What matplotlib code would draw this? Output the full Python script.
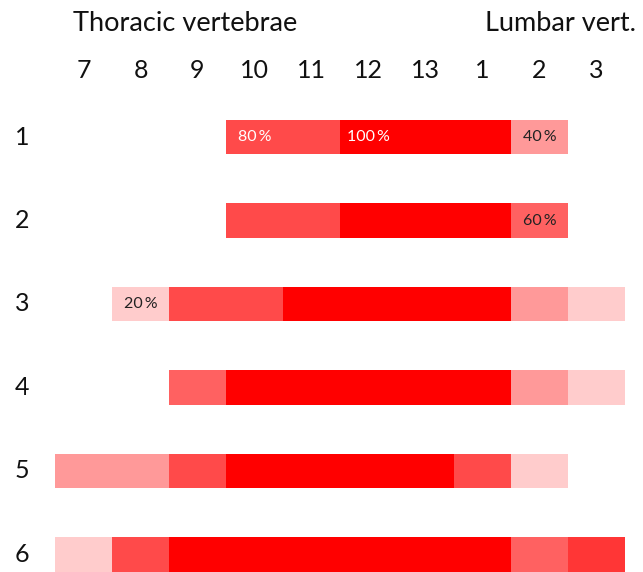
import matplotlib
matplotlib.use("Agg")
import matplotlib.pyplot as plt

# vertebrae columns (thoracic 7-13, lumbar 1-3)
cols = ["7", "8", "9", "10", "11", "12", "13", "1", "2", "3"]
rows = ["1", "2", "3", "4", "5", "6"]

# share of animals per cell (0 = empty)
row1 = [0, 0, 0, 0.8, 0.8, 1, 1, 1, 0.4, 0]
row2 = [0, 0, 0, 0.8, 0.8, 1, 1, 1, 0.6, 0]
row3 = [0, 0.2, 0.8, 0.8, 1, 1, 1, 1, 0.4, 0.2]
row4 = [0, 0, 0.6, 1, 1, 1, 1, 1, 0.4, 0.2]
row5 = [0.4, 0.4, 0.8, 1, 1, 1, 1, 0.8, 0.2, 0]
row6 = [0.2, 0.8, 1, 1, 1, 1, 1, 1, 0.6, 0.9]
data = [row1, row2, row3, row4, row5, row6]

# cells carrying a percentage label: (row, col, text)
labels = [(0, 3, "80\u2009%"), (0, 5, "100\u2009%"), (0, 8, "40\u2009%"),
          (1, 8, "60\u2009%"), (2, 1, "20\u2009%")]

# how strong the red looks for each level
shade = {0.2: 0.2, 0.4: 0.4, 0.6: 0.62, 0.8: 0.71, 0.9: 0.79, 1: 1.0}

plt.rcParams['font.family'] = ['Lato', 'DejaVu Sans']

fig = plt.figure(figsize=(6.43, 5.72), dpi=100)
ax = fig.add_axes([0, 0, 1, 1])

for r, vals in enumerate(data):
    # join neighbouring cells with the same value into one bar (no seams)
    c = 0
    while c < len(vals):
        v = vals[c]
        n = 1
        while c + n < len(vals) and vals[c + n] == v:
            n += 1
        if v != 0:
            a = shade[v]
            ax.barh(r, n, left=c - 0.5, height=0.41, color=(1, 1 - a, 1 - a),
                    linewidth=0)
        c += n

for r, c, t in labels:
    v = data[r][c]
    tc = 'white' if v >= 0.8 else '#222222'
    ax.text(c, r, t, ha='center', va='center', fontsize=11.5, color=tc)

# column numbers and row numbers
for c, name in enumerate(cols):
    ax.text(c, -0.80, name, ha='center', va='center', fontsize=18, color='#111111')
for r, name in enumerate(rows):
    ax.text(-1.08, r, name, ha='center', va='center', fontsize=18, color='#111111')

ax.text(-0.18, -1.36, "Thoracic vertebrae", ha='left', va='center', fontsize=19.5, color='#111111')
ax.text(9.69, -1.36, "Lumbar vert.", ha='right', va='center', fontsize=19.5, color='#111111')

ax.set_xlim(-1.465, 9.816)
ax.set_ylim(5.21, -1.641)
ax.axis('off')

fig.savefig("out.png", dpi=100)
